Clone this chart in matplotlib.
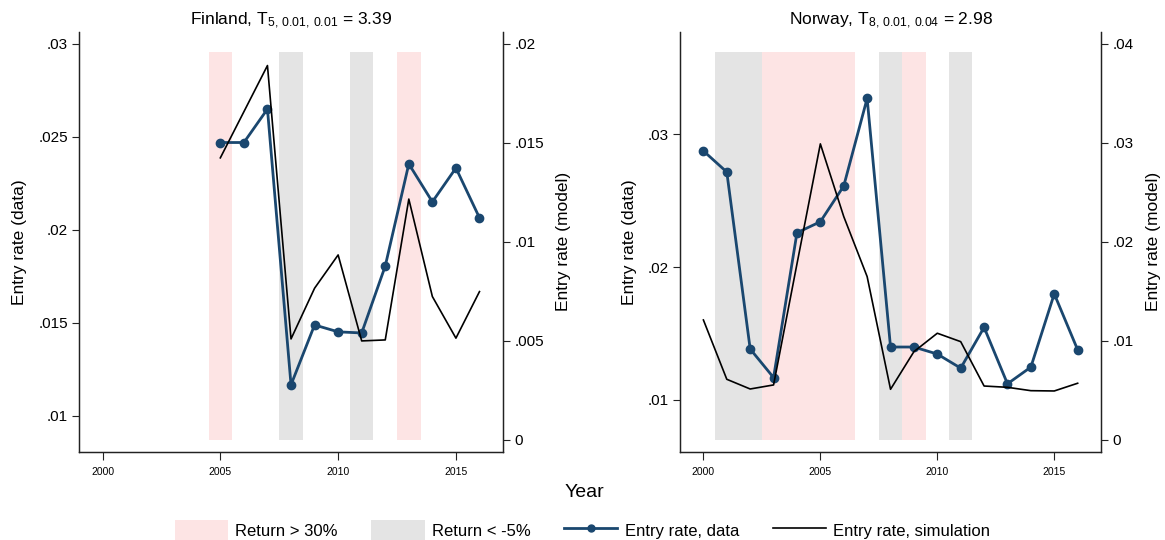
import matplotlib.pyplot as plt
from matplotlib.patches import Patch
from matplotlib.lines import Line2D

plt.rcParams['font.family'] = ['Liberation Sans', 'DejaVu Sans']
plt.rcParams['mathtext.fontset'] = 'custom'
plt.rcParams['mathtext.rm'] = 'Liberation Sans'
plt.rcParams['mathtext.it'] = 'Liberation Sans:italic'

# Finland
fi_years = [2005, 2006, 2007, 2008, 2009, 2010, 2011, 2012, 2013, 2014, 2015, 2016]
fi_data = [.0247, .0247, .0265, .01167, .01489, .01452, .01446, .01806, .02355, .02151, .02333, .02065]
fi_sim = [.01424, .01657, .0189, .0051, .00766, .00934, .0050, .00505, .01216, .00724, .00514, .00749]
fi_boom = [(2004.5, 2005.5), (2012.5, 2013.5)]
fi_bust = [(2007.5, 2008.5), (2010.5, 2011.5)]

# Norway
no_years = list(range(2000, 2017))
no_data = [.02874, .02715, .01383, .01168, .02258, .02341, .0261, .03269, .01398, .01398,
           .01345, .01239, .01546, .01121, .01247, .01798, .01377]
no_sim = [.01212, .00613, .00515, .00556, .01778, .0299, .02256, .0165, .00512, .00892,
          .01078, .00993, .00545, .00532, .00498, .00495, .00573]
no_boom = [(2002.5, 2006.5), (2008.5, 2009.5)]
no_bust = [(2000.5, 2002.5), (2007.5, 2008.5), (2010.5, 2011.5)]

xticks = [2000, 2005, 2010, 2015]

BLUE = '#1a476f'
PINK = '#fde4e4'
GREY = '#e4e4e4'
SPINE = '#222222'


def panel(rect, title, years, data, sim, boom, bust, ylim, yticks, yticklabels,
          y2lim, y2ticks, y2ticklabels):
    ax = fig.add_axes(rect)
    for a, b in boom:
        ax.axvspan(a, b, ymin=0.029, ymax=0.952, color=PINK, lw=0, zorder=0)
    for a, b in bust:
        ax.axvspan(a, b, ymin=0.029, ymax=0.952, color=GREY, lw=0, zorder=0)
    ax.plot(years, data, color=BLUE, lw=2.0, marker='o', ms=6, zorder=3)
    ax.set_xlim(1999, 2017)
    ax.set_ylim(*ylim)
    ax.set_yticks(yticks)
    ax.set_yticklabels(yticklabels, fontsize=11)
    ax.set_xticks(xticks)
    ax.set_xticklabels([str(x) for x in xticks], fontsize=7.5)
    ax.set_ylabel('Entry rate (data)', fontsize=12.5, labelpad=8)
    ax.set_title(title, fontsize=12.5, pad=5)
    ax.tick_params(axis='y', length=5, width=0.8, color=SPINE, pad=3)
    ax.tick_params(axis='x', length=6, width=0.8, color=SPINE, pad=5)

    ax2 = ax.twinx()
    ax2.plot(years, sim, color='black', lw=1.2, zorder=3)
    ax2.set_ylim(*y2lim)
    ax2.set_yticks(y2ticks)
    ax2.set_yticklabels(y2ticklabels, fontsize=11)
    ax2.set_ylabel('Entry rate (model)', fontsize=12.5, labelpad=9)
    ax2.tick_params(axis='y', length=5, width=0.8, color=SPINE, pad=3)

    for a in (ax, ax2):
        a.spines['top'].set_visible(False)
        for s in ('left', 'right', 'bottom'):
            a.spines[s].set_color(SPINE)
            a.spines[s].set_linewidth(0.9)
    return ax


fig = plt.figure(figsize=(11.65, 5.4), dpi=100)

panel([0.0678, 0.163, 0.364, 0.778],
      r'Finland, T$_{\mathrm{5,\:0.01,\:0.01}}$ = 3.39',
      fi_years, fi_data, fi_sim, fi_boom, fi_bust,
      (0.00806, 0.03065), [.01, .015, .02, .025, .03], ['.01', '.015', '.02', '.025', '.03'],
      (-0.000606, 0.0206), [0, .005, .01, .015, .02], ['0', '.005', '.01', '.015', '.02'])

panel([0.5837, 0.163, 0.3614, 0.778],
      r'Norway, T$_{\mathrm{8,\:0.01,\:0.04}}$ = 2.98',
      no_years, no_data, no_sim, no_boom, no_bust,
      (0.00608, 0.0377), [.01, .02, .03], ['.01', '.02', '.03'],
      (-0.00121, 0.04121), [0, .01, .02, .03, .04], ['0', '.01', '.02', '.03', '.04'])

fig.text(0.502, 0.088, 'Year', ha='center', va='center', fontsize=14)

handles = [Patch(facecolor=PINK, edgecolor='none'),
           Patch(facecolor=GREY, edgecolor='none'),
           Line2D([], [], color=BLUE, lw=2.0, marker='o', ms=5),
           Line2D([], [], color='black', lw=1.2)]
labels = ['Return > 30%', 'Return < -5%', 'Entry rate, data', 'Entry rate, simulation']
fig.legend(handles, labels, loc='center', bbox_to_anchor=(0.5, 0.018), ncol=4,
           frameon=False, fontsize=12, handlelength=3.2, handleheight=1.6,
           columnspacing=2.0, handletextpad=0.45)

fig.savefig('out.png', dpi=100)
